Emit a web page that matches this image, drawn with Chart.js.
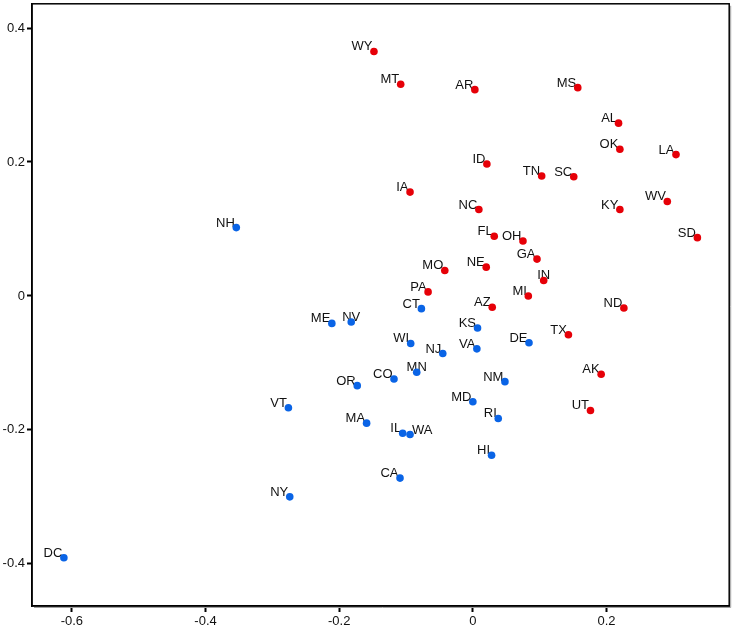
<!DOCTYPE html>
<html>
<head>
<meta charset="utf-8">
<script src="https://cdn.jsdelivr.net/npm/chart.js@4/dist/chart.umd.min.js"></script>
<style>
  html, body { margin: 0; padding: 0; background: #fff; }
  #wrap { width: 733px; height: 628px; position: relative; }
</style>
</head>
<body>
<div id="wrap"><canvas id="c" width="733" height="628"></canvas></div>
<script>
// ---- data ----
const redStates = ["WY","MT","AR","MS","AL","OK","ID","TN","SC","IA","NC","KY","FL","OH","GA","MO","NE","IN","PA","MI","AZ","ND","TX","AK","UT","LA","WV","SD"];
const redX = [-0.148,-0.108,0.003,0.157,0.218,0.220,0.021,0.103,0.151,-0.094,0.009,0.220,0.032,0.075,0.096,-0.042,0.020,0.106,-0.067,0.083,0.029,0.226,0.143,0.192,0.176,0.304,0.291,0.336];
const redY = [0.365,0.316,0.308,0.311,0.258,0.219,0.197,0.179,0.178,0.155,0.129,0.129,0.089,0.082,0.055,0.038,0.043,0.023,0.006,0.000,-0.017,-0.018,-0.058,-0.117,-0.171,0.211,0.141,0.087];

const blueStates = ["CT","ME","NV","KS","WI","NJ","VA","DE","MN","CO","OR","NM","MD","VT","RI","MA","IL","WA","HI","CA","NH","NY","DC"];
const blueX = [-0.077,-0.211,-0.182,0.007,-0.093,-0.045,0.006,0.084,-0.084,-0.118,-0.173,0.048,0.000,-0.276,0.038,-0.159,-0.105,-0.094,0.028,-0.109,-0.354,-0.274,-0.612];
const blueY = [-0.019,-0.041,-0.039,-0.048,-0.071,-0.086,-0.079,-0.070,-0.114,-0.124,-0.134,-0.128,-0.158,-0.167,-0.183,-0.190,-0.205,-0.207,-0.238,-0.272,0.102,-0.300,-0.391];

const xTicks = [-0.6,-0.4,-0.2,0,0.2];
const yTicks = [-0.4,-0.2,0,0.2,0.4];

// label placement style (default: upper-left of the marker)
const labelPlacement = { IN: "center", MN: "center", NV: "center", WA: "right" };

const RED = "#e60008";
const BLUE = "#0a64e6";
const FONT = "'Liberation Sans', Arial, sans-serif";

function pts(xs, ys) { return xs.map((x, i) => ({ x: x, y: ys[i] })); }

const labelPlugin = {
  id: "stateLabels",
  beforeDatasetsDraw(chart) {
    const ctx = chart.ctx;
    const xs = chart.scales.x, ys = chart.scales.y;
    ctx.save();
    ctx.font = "13px " + FONT;
    ctx.fillStyle = "#111";
    ctx.textBaseline = "alphabetic";
    chart.data.datasets.forEach(ds => {
      ds.data.forEach((p, i) => {
        const name = ds.names[i];
        const px = xs.getPixelForValue(p.x);
        const py = ys.getPixelForValue(p.y);
        const mode = labelPlacement[name] || "left";
        if (mode === "center") {
          ctx.textAlign = "center";
          ctx.fillText(name, px, py - 1.5);
        } else if (mode === "right") {
          ctx.textAlign = "left";
          ctx.fillText(name, px + 2, py - 0.5);
        } else {
          ctx.textAlign = "right";
          ctx.fillText(name, px - 1.5, py - 1);
        }
      });
    });
    ctx.restore();
  },
  afterDraw(chart) {
    const a = chart.chartArea;
    const ctx = chart.ctx;
    ctx.save();
    ctx.strokeStyle = "#a0a0a0";
    ctx.lineWidth = 1;
    ctx.beginPath();
    ctx.moveTo(a.right + 1.5, a.top + 2);
    ctx.lineTo(a.right + 1.5, a.bottom + 1.5);
    ctx.lineTo(a.left + 2, a.bottom + 1.5);
    ctx.stroke();
    ctx.strokeStyle = "#000";
    ctx.lineWidth = 1.5;
    ctx.strokeRect(a.left, a.top, a.right - a.left, a.bottom - a.top);
    ctx.restore();
  }
};

new Chart(document.getElementById("c"), {
  type: "scatter",
  data: {
    datasets: [
      { names: redStates, data: pts(redX, redY), backgroundColor: RED, borderWidth: 0, pointRadius: 3.8, pointHoverRadius: 3.8 },
      { names: blueStates, data: pts(blueX, blueY), backgroundColor: BLUE, borderWidth: 0, pointRadius: 3.8, pointHoverRadius: 3.8 }
    ]
  },
  options: {
    responsive: false,
    animation: false,
    events: [],
    layout: { padding: { top: 2, right: 2, left: 0, bottom: 0 } },
    plugins: { legend: { display: false }, tooltip: { enabled: false } },
    scales: {
      x: {
        type: "linear",
        min: -0.6597,
        max: 0.3836,
        afterBuildTicks: s => { s.ticks = xTicks.map(v => ({ value: v })); },
        afterFit: s => { s.height = 22; s.paddingLeft = 0; s.paddingRight = 0; },
        grid: { drawOnChartArea: false, drawTicks: true, tickLength: 6, tickColor: "#000", tickWidth: 2 },
        border: { display: true, color: "#000", width: 1.5 },
        ticks: { color: "#111", font: { family: FONT, size: 13 }, padding: 2, maxRotation: 0, callback: v => String(v) }
      },
      y: {
        type: "linear",
        min: -0.463,
        max: 0.4362,
        afterBuildTicks: s => { s.ticks = yTicks.map(v => ({ value: v })); },
        afterFit: s => { s.width = 32; s.paddingTop = 0; s.paddingBottom = 0; },
        grid: { drawOnChartArea: false, drawTicks: true, tickLength: 5, tickColor: "#000", tickWidth: 2 },
        border: { display: true, color: "#000", width: 1.5 },
        ticks: { color: "#111", font: { family: FONT, size: 13 }, padding: 2, callback: v => String(v) }
      }
    }
  },
  plugins: [labelPlugin]
});
</script>
</body>
</html>
